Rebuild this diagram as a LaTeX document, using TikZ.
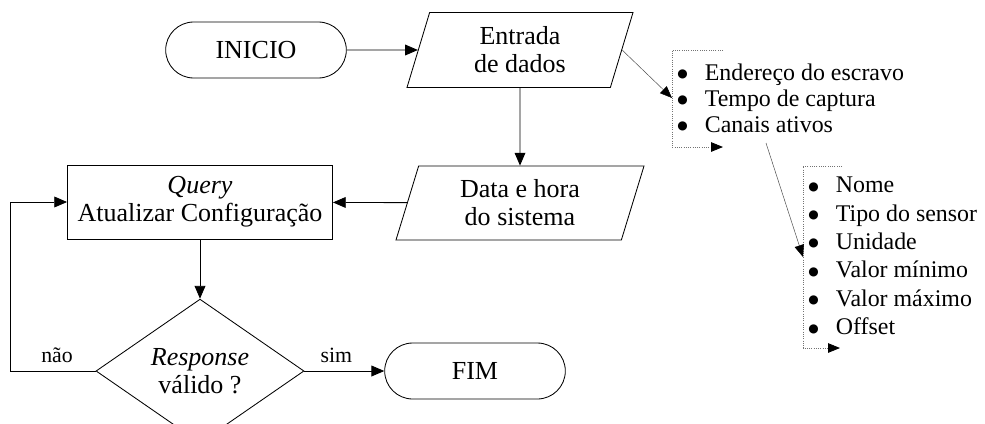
\documentclass[tikz,border=0pt]{standalone}
\usepackage{fontspec}
\setmainfont{Liberation Serif}
\newfontfamily\bulfont{DejaVu Sans}
\usetikzlibrary{positioning,arrows.meta,shapes.geometric,shapes.misc}
\newcommand{\marca}{\makebox[6.9mm][l]{\raisebox{1.8pt}{\bulfont\fontsize{8.5}{8.5}\selectfont ●}}}

\begin{document}
\begin{tikzpicture}[
  x=0.25mm, y=-0.25mm,
  font=\fontsize{18.5}{20}\selectfont,
  term/.style={draw, rounded rectangle, line width=0.6pt, minimum width=47.5mm, minimum height=14mm},
  io/.style={draw, trapezium, trapezium left angle=64, trapezium right angle=116, trapezium stretches body, line width=0.6pt, align=center, inner sep=0pt, minimum height=18.75mm},
  proc/.style={draw, rectangle, line width=0.6pt, align=center, minimum width=66.25mm, minimum height=18.5mm},
  dec/.style={draw, diamond, line width=0.6pt, align=center, inner sep=0pt, minimum width=52mm, minimum height=28mm},
  lst/.style={anchor=west, align=left, inner sep=0pt},
  arr/.style={-{Triangle[length=3.2mm,width=2.7mm]}, line width=0.6pt},
  seta/.style={-{Triangle[length=3mm,width=2.4mm,color=black]}, line width=0.35pt, draw=black!70},
  brk/.style={-{Triangle[length=3mm,width=2.4mm,color=black]}, densely dotted, line width=0.6pt, draw=black!55},
  lab/.style={font=\fontsize{15.5}{17}\selectfont, inner sep=1pt},
]
  \useasboundingbox (0,0) rectangle (985,423);

  % fluxo principal
  \node[term] (inicio) at (256,50) {INICIO};
  \node[io, minimum width=56.5mm] (entrada) at (520,50) {Entrada\\de dados};
  \node[io, minimum width=62mm, minimum height=18.5mm] (data) at (520,203) {Data e hora\\do sistema};
  \node[proc] (query) at (200,202) {\textit{Query}\\Atualizar Configuração};
  \node[dec] (valido) at (200,371) {\textit{Response}\\válido ?};
  \node[term] (fim) at (475,371) {FIM};
  \coordinate (retorno) at (10,371);

  % listas de parametros
  \node[lst, font=\fontsize{17}{18.5}\selectfont] (lista1) at (677,98)
    {\marca Endereço do escravo\\\marca Tempo de captura\\\marca Canais ativos};
  \node[lst, font=\fontsize{17}{20.2}\selectfont] (lista2) at (808,256)
    {\marca Nome\\\marca Tipo do sensor\\\marca Unidade\\\marca Valor mínimo\\\marca Valor máximo\\\marca Offset};
  \coordinate (b1) at (672,98);
  \coordinate (canais) at (766,143);
  \coordinate (b2) at (803,257);
  \draw[brk] (723,50) -- (672,50) -- (672,147) -- (723,147);
  \draw[brk] (842,166) -- (803,166) -- (803,348) -- (840,348);

  \draw[arr] (inicio) -- (entrada);
  \draw[arr] (entrada.south) -- (data.north);
  \draw[arr] (data) -- (query);
  \draw[arr] (query) -- (valido);
  \draw[arr] (valido) -- node[lab, above=1.5mm, pos=0.4]{sim} (fim);
  \draw[arr] (valido.west) -- node[lab, above=1.5mm, pos=0.45]{não} (retorno) |- (query.west);
  \draw[seta] (entrada.east) -- (b1);
  \draw[seta] (canais) -- (b2);
\end{tikzpicture}
\end{document}
